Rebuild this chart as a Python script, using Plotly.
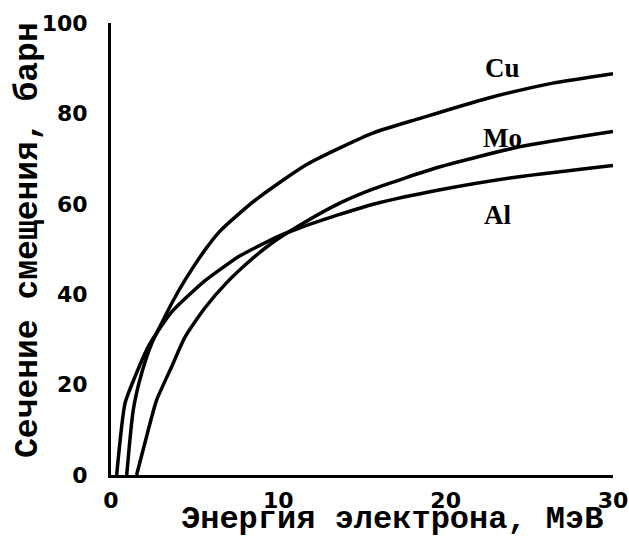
import plotly.graph_objects as go

# Data
cu_energy = [0.94, 1.33, 1.83, 2.43, 3.03, 3.63, 4.42, 5.62, 6.5, 7.71, 8.9, 11.7, 15.68, 18.47, 22.46, 26.4, 30.0]
cu_sigma = [0, 14.4, 22.5, 29.1, 33.6, 38.0, 43.1, 49.8, 53.9, 58.0, 61.6, 68.7, 75.7, 78.9, 83.3, 86.7, 88.8]

mo_energy = [1.53, 2.23, 2.73, 3.63, 4.42, 5.62, 6.9, 8.3, 9.5, 11.3, 13.7, 15.68, 19.67, 24.4, 30.0]
mo_sigma = [0, 10.0, 16.6, 24.0, 30.5, 37.0, 42.5, 47.4, 51.0, 55.3, 60.2, 63.3, 68.2, 72.6, 76.0]

al_energy = [0.34, 0.84, 1.43, 2.23, 2.93, 3.63, 5.62, 7.71, 8.9, 10.0, 11.3, 12.7, 13.7, 15.68, 19.67, 24.4, 30.0]
al_sigma = [0, 15.9, 21.7, 28.4, 32.5, 36.1, 43.0, 48.5, 50.8, 52.8, 54.7, 56.5, 57.7, 59.9, 63.1, 66.0, 68.5]

label_names = ["Cu", "Mo", "Al"]
label_x = [23.4, 23.4, 23.1]
label_y = [90.0, 74.6, 57.5]

x_title = "Энергия электрона, МэВ"
y_title = "Сечение смещения, барн"

x_major_ticks = [0, 10, 20, 30]
y_major_ticks = [0, 20, 40, 60, 80, 100]
x_minor_step = 1
y_minor_step = 2

W, H = 629, 538
M = dict(l=111, r=16, t=23, b=63)
x_range = [0, 30]
y_range = [0, 100]

fig = go.Figure()
for ex, sy in [(cu_energy, cu_sigma), (mo_energy, mo_sigma), (al_energy, al_sigma)]:
    fig.add_trace(go.Scatter(
        x=ex, y=sy, mode="lines",
        line=dict(color="black", width=3.5, shape="spline", smoothing=0.6),
        showlegend=False, hoverinfo="skip",
    ))

# Tick marks outside the axes, drawn as line markers (markers are not clipped with cliponaxis=False)
x_units_per_px = (x_range[1] - x_range[0]) / (W - M["l"] - M["r"])
y_units_per_px = (y_range[1] - y_range[0]) / (H - M["t"] - M["b"])
MAJOR_LEN, MINOR_LEN = 12, 7

xt_x, xt_y, xt_s = [], [], []
for v in range(x_major_ticks[0], x_major_ticks[-1] + 1, x_minor_step):
    ln = MAJOR_LEN if v in x_major_ticks else MINOR_LEN
    xt_x.append(v)
    xt_y.append(y_range[0] - (ln / 2 + 1) * y_units_per_px)
    xt_s.append(ln)
fig.add_trace(go.Scatter(x=xt_x, y=xt_y, mode="markers", cliponaxis=False,
                         marker=dict(symbol="line-ns", size=xt_s, color="black",
                                     line=dict(color="black", width=2)),
                         showlegend=False, hoverinfo="skip"))

yt_x, yt_y, yt_s = [], [], []
for v in range(y_major_ticks[0], y_major_ticks[-1] + 1, y_minor_step):
    ln = MAJOR_LEN if v in y_major_ticks else MINOR_LEN
    yt_x.append(x_range[0] - (ln / 2 + 1) * x_units_per_px)
    yt_y.append(v)
    yt_s.append(ln)
fig.add_trace(go.Scatter(x=yt_x, y=yt_y, mode="markers", cliponaxis=False,
                         marker=dict(symbol="line-ew", size=yt_s, color="black",
                                     line=dict(color="black", width=2)),
                         showlegend=False, hoverinfo="skip"))

for name, lx, ly in zip(label_names, label_x, label_y):
    fig.add_annotation(x=lx, y=ly, text=name, showarrow=False,
                       font=dict(family="Liberation Serif", size=27, color="black", weight="bold"))

fig.add_annotation(xref="paper", yref="paper", x=0.984, y=0.0, yshift=-44,
                   xanchor="right", yanchor="middle", text=x_title, showarrow=False,
                   font=dict(family="Liberation Mono", size=32, color="black", weight="bold"))
fig.add_annotation(xref="paper", yref="paper", x=0, y=0.52, xshift=-82,
                   xanchor="center", yanchor="middle", text=y_title, textangle=-90, showarrow=False,
                   font=dict(family="Liberation Mono", size=33, color="black", weight="bold"))

fig.update_xaxes(range=x_range, tickvals=x_major_ticks, ticks="outside", ticklen=11, tickwidth=2,
                 tickcolor="rgba(0,0,0,0)", ticklabelstandoff=-7,
                 showline=True, linewidth=3, linecolor="black", showgrid=False, zeroline=False,
                 tickfont=dict(family="DejaVu Sans", size=22, color="black", weight="bold"))
fig.update_yaxes(range=y_range, tickvals=y_major_ticks, ticks="outside", ticklen=11, tickwidth=2,
                 tickcolor="rgba(0,0,0,0)", ticklabelstandoff=5,
                 showline=True, linewidth=3, linecolor="black", showgrid=False, zeroline=False,
                 tickfont=dict(family="DejaVu Sans", size=22, color="black", weight="bold"))

fig.update_layout(template="none", width=W, height=H, margin=M,
                  plot_bgcolor="white", paper_bgcolor="white")

fig.write_html("out.html")
